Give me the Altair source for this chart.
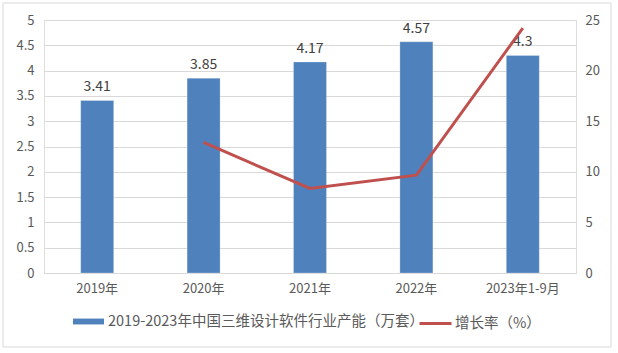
import altair as alt
import pandas as pd

years = ["2019年", "2020年", "2021年", "2022年", "2023年1-9月"]
capacity = [3.41, 3.85, 4.17, 4.57, 4.3]
growth = [None, 12.9, 8.35, 9.67, 24.2]
bar_name = "2019-2023年中国三维设计软件行业产能（万套）"
line_name = "增长率（%）"

FONT = "Noto Sans CJK SC"
GRAY = "#595959"

df = pd.DataFrame({"year": years, "cap": capacity, "s1": bar_name})
dfl = pd.DataFrame({"year": years, "growth": growth, "s2": line_name}).dropna()

xscale = alt.Scale(paddingInner=0.69, paddingOuter=0.345)
xaxis = alt.Axis(labelAngle=0, ticks=False, domain=False, domainOpacity=0, grid=False,
                 labelPadding=9, labelFontSize=13, labelColor=GRAY, labelFont=FONT)

def xenc():
    return alt.X("year:N", sort=years, title=None, scale=xscale, axis=xaxis)

yscale = alt.Scale(domain=[0, 5])
yaxis = alt.Axis(values=[0, 0.5, 1, 1.5, 2, 2.5, 3, 3.5, 4, 4.5, 5], format=".1~f",
                 ticks=False, domain=False, domainOpacity=0, gridColor="#d9d9d9", gridWidth=1,
                 labelPadding=10, labelFontSize=13, labelColor=GRAY, labelFont=FONT)

bars = alt.Chart(df).mark_bar(stroke="#ffffff", strokeWidth=0.5, strokeOpacity=0.5).encode(
    x=xenc(),
    y=alt.Y("cap:Q", scale=yscale, title=None, axis=yaxis),
    fill=alt.Fill("s1:N", scale=alt.Scale(domain=[bar_name], range=["#4f81bd"]),
                  legend=alt.Legend(title=None, orient="none", legendX=29, legendY=286,
                                    symbolType="M-1,-0.19H1V0.19H-1Z", symbolSize=961,
                                    symbolStrokeWidth=0, labelFontSize=14.5, labelColor=GRAY,
                                    labelFont=FONT, labelOffset=4, labelLimit=500)),
)

labels = alt.Chart(df).mark_text(baseline="middle", dy=-13, fontSize=14, color="#404040", font=FONT).encode(
    x=xenc(),
    y=alt.Y("cap:Q", scale=yscale, title=None, axis=yaxis),
    text=alt.Text("cap:Q"),
)

frame = alt.Chart(pd.DataFrame({"a": [0]})).mark_rect(fill="transparent", stroke="#d9d9d9", strokeWidth=1).encode(
    x=alt.value(-41), x2=alt.value(567), y=alt.value(-17), y2=alt.value(327)
)

line = alt.Chart(dfl).mark_line(strokeWidth=3, color="#c0504d").encode(
    x=xenc(),
    y=alt.Y("growth:Q", scale=alt.Scale(domain=[0, 25]), title=None,
            axis=alt.Axis(orient="right", values=[0, 5, 10, 15, 20, 25], ticks=False, domain=False,
                          domainOpacity=0, grid=False, labelPadding=9, labelFontSize=13,
                          labelColor=GRAY, labelFont=FONT)),
    stroke=alt.Stroke("s2:N", scale=alt.Scale(domain=[line_name], range=["#c0504d"]),
                      legend=alt.Legend(title=None, orient="none", legendX=374, legendY=286,
                                        symbolType="stroke", symbolSize=1024, symbolStrokeWidth=3,
                                        labelFontSize=14.5, labelColor=GRAY, labelFont=FONT,
                                        labelOffset=2, labelLimit=300)),
)

chart = alt.layer(alt.layer(bars, labels), line, frame).resolve_scale(y="independent").properties(
    width=532, height=253,
    autosize=alt.AutoSizeParams(type="none"),
    padding={"left": 44, "top": 20, "right": 42, "bottom": 80},
).configure_view(stroke="transparent", strokeWidth=0).configure_axis(
    domain=False, domainOpacity=0, ticks=False
).configure_axisRight(domain=False, domainOpacity=0).configure(background="white")

chart.save("out.html", embed_options={"renderer": "svg", "actions": False})
